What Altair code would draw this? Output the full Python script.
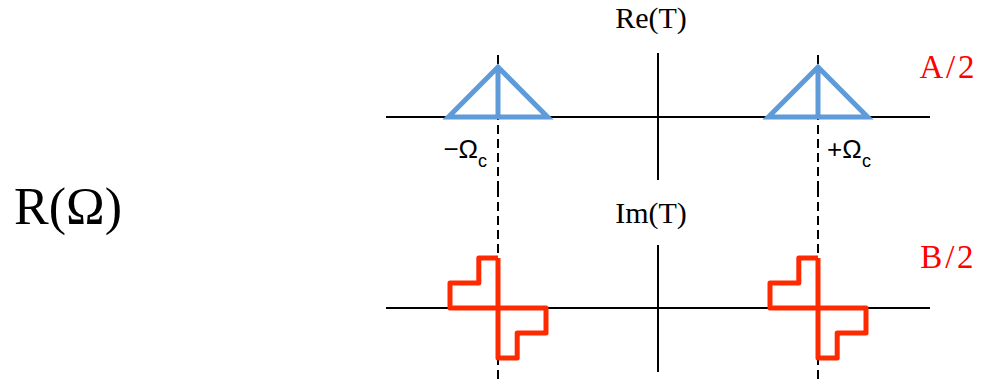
import altair as alt
import pandas as pd

# Spectrum R(Ω): two band copies centred on ±Ωc
OMEGA_C = 1.0
centres = [-OMEGA_C, OMEGA_C]

# Real part: triangular band (offsets from the centre, amplitude), traced as one path
re_dx = [0.0, -0.31, 0.0, 0.31, 0.0, 0.0]
re_amp = [0.0, 0.0, 1.0, 0.0, 0.0, 1.0]

# Imaginary part: odd staircase band, traced as one closed path
im_dx = [0.0, -0.12, -0.12, -0.30, -0.30, 0.30, 0.30, 0.12, 0.12, 0.0, 0.0]
im_amp = [1.0, 1.0, 0.5, 0.5, 0.0, 0.0, -0.5, -0.5, -1.0, -1.0, 1.0]

# Axis extents
freq_span = [-1.7, 1.7]
re_vert = [-1.26, 1.28]
im_vert = [-1.28, 1.26]

# ---- layout -------------------------------------------------------------
W = 984
H_TOP, H_BOT = 190, 189
X_DOM = [-658 / 160, 326 / 160]
Y_TOP = [-1.46, 2.34]
Y_BOT = [-1.42, 2.36]

BLUE = "#5e9bd8"
RED = "#ff2a00"
HAIR = "\u200a"


def band_frame(dx, amp):
    rows = []
    for b, c in enumerate(centres):
        for i, (d, a) in enumerate(zip(dx, amp)):
            rows.append({"band": b, "i": i, "x": c + d, "y": a})
    return pd.DataFrame(rows)


def xs(field="x"):
    return alt.X(f"{field}:Q", scale=alt.Scale(domain=X_DOM, nice=False, zero=False), axis=None)


def ys(dom, field="y"):
    return alt.Y(f"{field}:Q", scale=alt.Scale(domain=dom, nice=False, zero=False), axis=None)


def axes_layers(dom, vert, dash_top):
    horiz = alt.Chart(pd.DataFrame({"x": [freq_span[0]], "x2": [freq_span[1]], "y": [0.0]})).mark_rule(
        color="black", strokeWidth=2
    ).encode(x=xs(), x2="x2:Q", y=ys(dom))
    vline = alt.Chart(pd.DataFrame({"x": [0.0], "y": [vert[0]], "y2": [vert[1]]})).mark_rule(
        color="black", strokeWidth=2
    ).encode(x=xs(), y=ys(dom), y2="y2:Q")
    dashed = alt.Chart(pd.DataFrame({"x": centres, "y": [dom[0]] * 2, "y2": [dash_top] * 2})).mark_rule(
        color="black", strokeWidth=2, strokeDash=[9, 5]
    ).encode(x=xs(), y=ys(dom), y2="y2:Q")
    return [horiz, vline, dashed]


def text_layer(df, dom, **style):
    return alt.Chart(df).mark_text(**style).encode(x=xs(), y=ys(dom), text="t:N")


# ---- real part ----------------------------------------------------------
re_df = band_frame(re_dx, re_amp)
re_line = alt.Chart(re_df).mark_line(color=BLUE, strokeWidth=5, strokeJoin="miter").encode(
    x=xs(), y=ys(Y_TOP), detail="band:N", order="i:Q"
)
re_title = text_layer(pd.DataFrame({"x": [0.0], "y": [1.78], "t": ["Re(T)"]}), Y_TOP,
                      font="Liberation Serif", fontSize=30, align="center", baseline="alphabetic",
                      dx=-7, color="black")
a_label = text_layer(pd.DataFrame({"x": [1.806], "y": [0.78], "t": [f"A{HAIR}/{HAIR}2"]}), Y_TOP,
                     font="Liberation Serif", fontSize=33, align="center", baseline="alphabetic",
                     color="red")
om_neg = text_layer(pd.DataFrame({"x": [-OMEGA_C], "y": [-0.82], "t": ["\u2212\u03a9"]}), Y_TOP,
                    font="Liberation Sans", fontSize=26, align="right", baseline="alphabetic",
                    dx=-20, color="black")
om_neg_sub = text_layer(pd.DataFrame({"x": [-OMEGA_C], "y": [-1.0], "t": ["c"]}), Y_TOP,
                        font="Liberation Sans", fontSize=18, align="left", baseline="alphabetic",
                        dx=-20, color="black")
om_pos = text_layer(pd.DataFrame({"x": [OMEGA_C], "y": [-0.82], "t": ["+\u03a9"]}), Y_TOP,
                    font="Liberation Sans", fontSize=26, align="left", baseline="alphabetic",
                    dx=9, color="black")
om_pos_sub = text_layer(pd.DataFrame({"x": [OMEGA_C], "y": [-1.0], "t": ["c"]}), Y_TOP,
                        font="Liberation Sans", fontSize=18, align="left", baseline="alphabetic",
                        dx=44, color="black")

top = alt.layer(
    *axes_layers(Y_TOP, re_vert, 1.3), re_line, re_title, a_label, om_neg, om_neg_sub, om_pos, om_pos_sub
).properties(width=W, height=H_TOP)

# ---- imaginary part -----------------------------------------------------
im_df = band_frame(im_dx, im_amp)
im_line = alt.Chart(im_df).mark_line(color=RED, strokeWidth=5, strokeJoin="round").encode(
    x=xs(), y=ys(Y_BOT), detail="band:N", order="i:Q"
)
im_title = text_layer(pd.DataFrame({"x": [0.0], "y": [1.7], "t": ["Im(T)"]}), Y_BOT,
                      font="Liberation Serif", fontSize=30, align="center", baseline="alphabetic",
                      dx=-7, color="black")
b_label = text_layer(pd.DataFrame({"x": [1.806], "y": [0.8], "t": [f"B{HAIR}/{HAIR}2"]}), Y_BOT,
                     font="Liberation Serif", fontSize=33, align="center", baseline="alphabetic",
                     color="red")
r_label = text_layer(pd.DataFrame({"x": [-3.6875], "y": [1.68], "t": ["R(\u03a9)"]}), Y_BOT,
                     font="Liberation Serif", fontSize=52, align="center", baseline="alphabetic",
                     color="black")

bottom = alt.layer(
    *axes_layers(Y_BOT, im_vert, Y_BOT[1]), im_line, im_title, b_label, r_label
).properties(width=W, height=H_BOT)

chart = (
    alt.vconcat(top, bottom, spacing=0, bounds="flush")
    .properties(padding=0, background="white")
    .configure_view(stroke=None)
)

chart.save("out.html", embed_options={"renderer": "svg", "actions": False})
